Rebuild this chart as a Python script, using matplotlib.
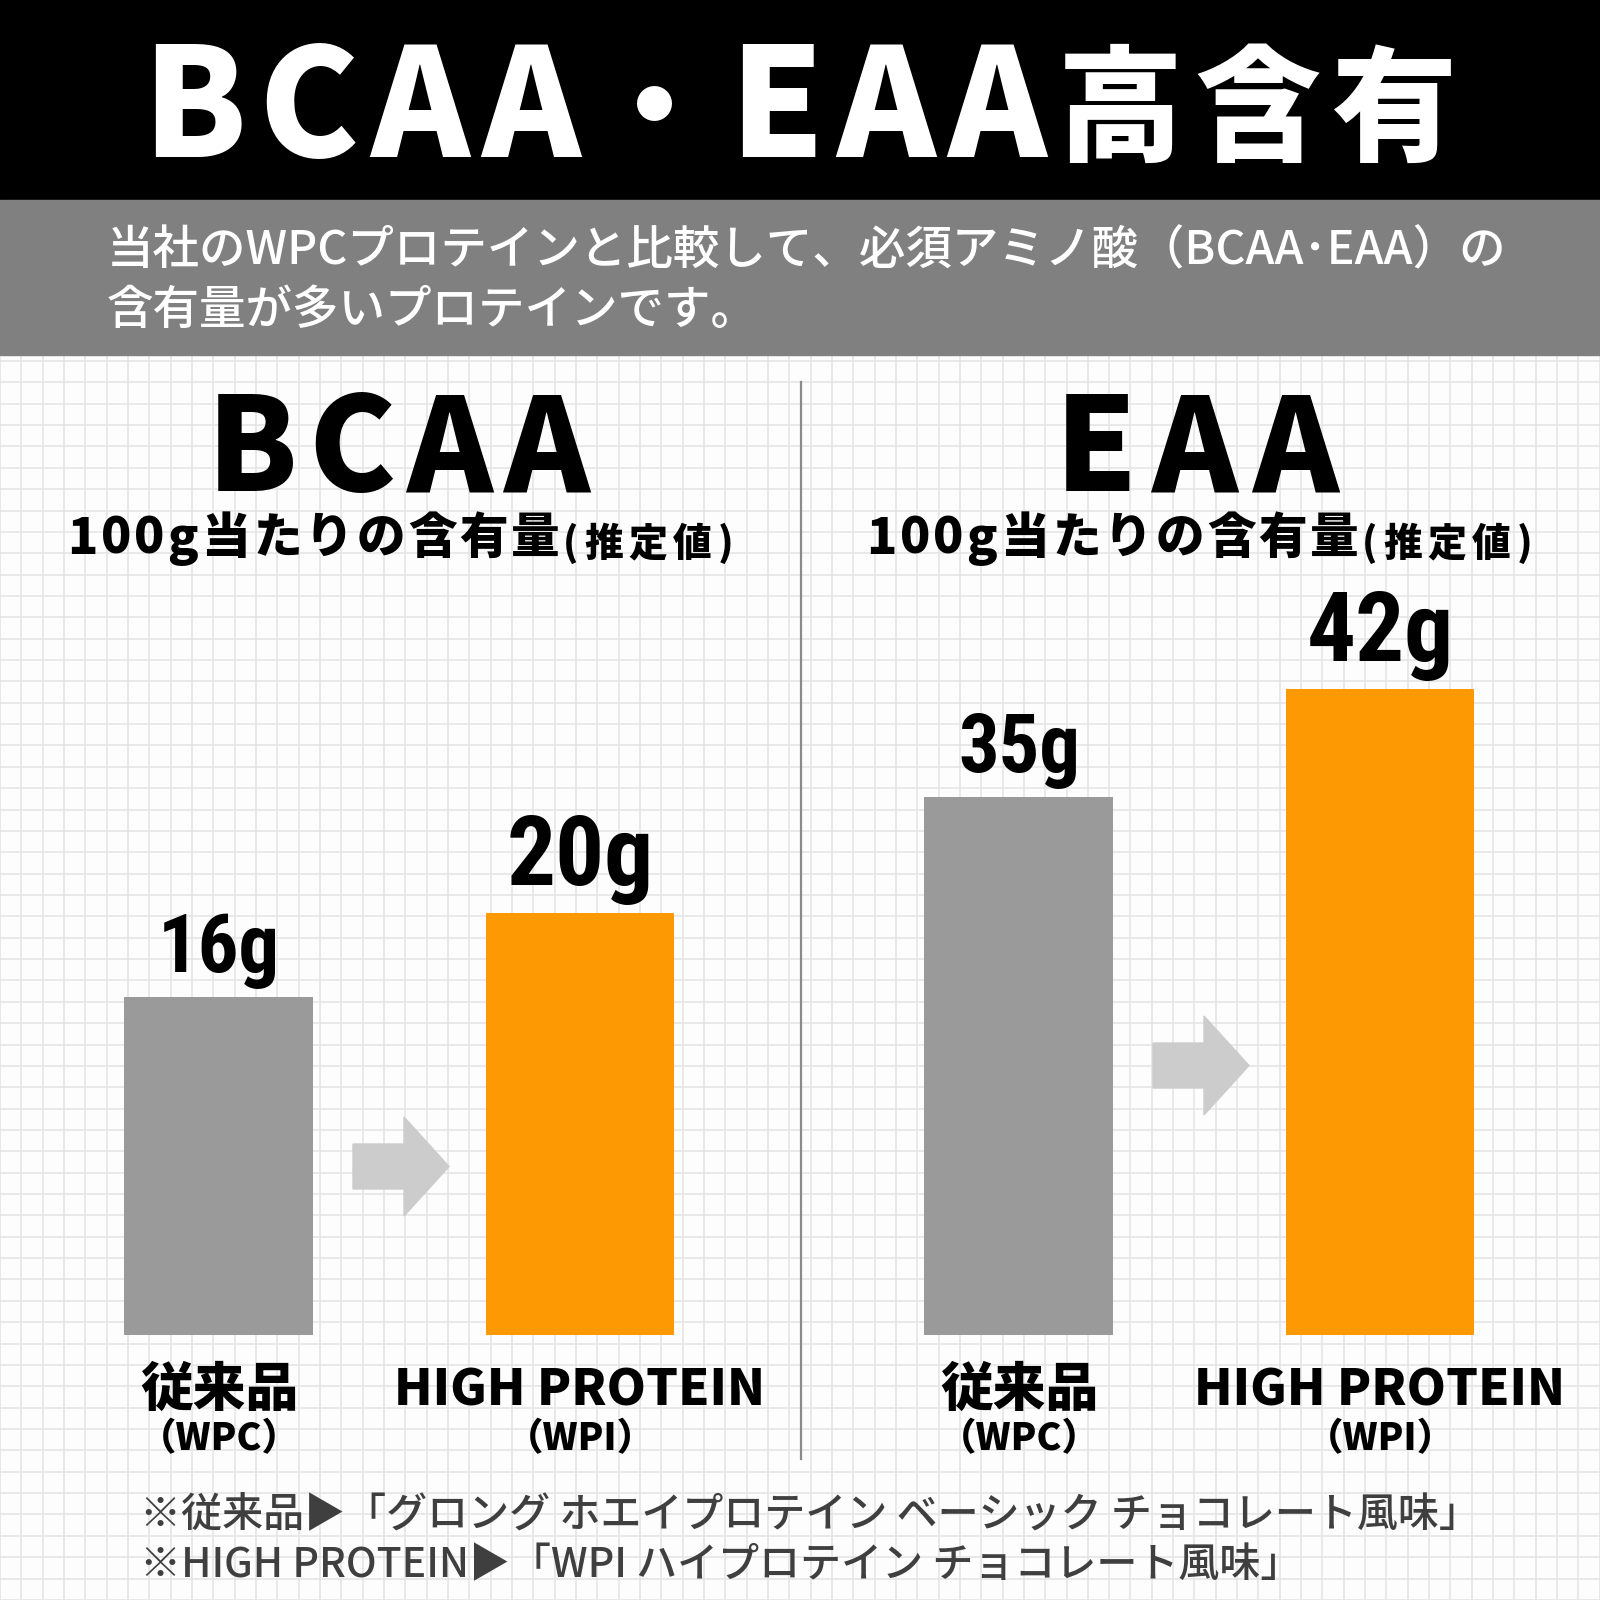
import matplotlib
matplotlib.use("Agg")
import numpy as np
import matplotlib.pyplot as plt
import matplotlib.transforms as mtransforms
from matplotlib.patches import Rectangle, Polygon
from matplotlib.font_manager import FontProperties, fontManager
from matplotlib.textpath import TextPath

# ---------------- data ----------------
TITLE = "BCAA・EAA高含有"
SUBTITLE = ["当社のWPCプロテインと比較して、必須アミノ酸（BCAA･EAA）の",
            "含有量が多いプロテインです。"]
PANELS = ["BCAA", "EAA"]
PANEL_SUB_MAIN = "100g当たりの含有量"
PANEL_SUB_PAREN = "(推定値)"
CATEGORIES = ["従来品", "HIGH PROTEIN"]
CATEGORY_SUB = ["（WPC）", "（WPI）"]
BCAA_VALUES = [16, 20]
EAA_VALUES = [35, 42]
UNIT = "g"
NOTES = ["※従来品▶「グロング ホエイプロテイン ベーシック チョコレート風味」",
         "※HIGH PROTEIN▶「WPI ハイプロテイン チョコレート風味」"]
BAR_COLORS = ["#9a9a9a", "#fd9a03"]
YMAX = [46.4, 63.7]

# ---------------- fonts ----------------
names = {f.name for f in fontManager.ttflist}
CJK = ["Noto Sans CJK JP", "DejaVu Sans"]
NUMFONT = ["Roboto Condensed", "Roboto", "DejaVu Sans"] if "Roboto Condensed" in names else ["Roboto", "DejaVu Sans"]
plt.rcParams["font.family"] = CJK

fig = plt.figure(figsize=(16, 16), dpi=100)
fig.patch.set_facecolor("#fdfdfd")
ax_bg = fig.add_axes([0, 0, 1, 1])
ax_bg.set_xlim(0, 1600)
ax_bg.set_ylim(1600, 0)
ax_bg.axis("off")
ax_bg.set_zorder(0)

# grid background
for x in np.arange(0, 1601, 21.33):
    ax_bg.plot([x, x], [355, 1600], color="#e4e4e4", lw=1.1, zorder=0)
for y in np.arange(361, 1601, 21.36):
    ax_bg.plot([0, 1600], [y, y], color="#e4e4e4", lw=1.1, zorder=0)

# bands
ax_bg.add_patch(Rectangle((0, 0), 1600, 200, color="black", zorder=1))
ax_bg.add_patch(Rectangle((0, 200), 1600, 155, color="#808080", zorder=1))


def metrics(ch, fp):
    """(ink xmin, ink xmax, advance) in pixels relative to pen origin"""
    px = fp.get_size_in_points() * 100 / 72
    fp2 = fp.copy()
    fp2.set_family(fp.get_family()[0])
    bar = TextPath((0, 0), "|", size=px, prop=fp2).get_extents().x1
    adv = TextPath((0, 0), ch + "|", size=px, prop=fp2).get_extents().x1 - bar
    if ch == " ":
        return 0.0, 0.0, adv
    ext = TextPath((0, 0), ch, size=px, prop=fp2).get_extents()
    return ext.x0, ext.x1, adv


def spaced(segs, x0, x1, color):
    """place characters so the first ink starts at x0 and last ink ends at x1"""
    items = []
    for text, size, weight, by in segs:
        fp = FontProperties(family=CJK, size=size, weight=weight)
        for ch in text:
            items.append((ch, fp, by) + metrics(ch, fp))
    natural = sum(it[5] for it in items[:-1]) + items[-1][4] - items[0][3]
    track = (x1 - x0 - natural) / max(len(items) - 1, 1)
    pen = x0 - items[0][3]
    for ch, fp, by, a, b, adv in items:
        if ch != " ":
            ax_bg.text(pen, by, ch, fontproperties=fp, color=color, ha="left",
                       va="baseline", zorder=5)
        pen += adv + track


# title
segs = []
for ch in TITLE:
    if ord(ch) < 128:
        segs.append((ch, 108, "black", 157))
    else:
        segs.append((ch, 90, "black", 151))
spaced(segs, 155, 1451, "white")

# subtitle
ax_bg.text(107, 264, SUBTITLE[0], fontsize=33.5, weight="medium", color="white",
           ha="left", va="baseline", zorder=5)
ax_bg.text(107, 324, SUBTITLE[1], fontsize=33.5, weight="medium", color="white",
           ha="left", va="baseline", zorder=5)

# separator
ax_bg.plot([801, 801], [382, 1459], color="#8a8a8a", lw=1.6, zorder=2)

# panel headers
head_ext = [(218, 590), (1066, 1339)]
for p, name in enumerate(PANELS):
    spaced([(name, 94, "black", 491)], head_ext[p][0], head_ext[p][1], "black")
    off = 799 * p
    spaced([(PANEL_SUB_MAIN[:4], 36, "black", 554), (PANEL_SUB_MAIN[4:], 35, "black", 553)],
           71 + off, 558 + off, "black")
    spaced([(PANEL_SUB_PAREN, 28, "black", 556)], 566 + off, 730 + off, "black")

# arrows
arrow = np.array([(353, 1144), (404, 1144), (404, 1117), (449, 1166.5),
                  (404, 1216), (404, 1189), (353, 1189)])
for dx, dy in [(0, 0), (800, -101)]:
    ax_bg.add_patch(Polygon(arrow + [dx, dy], closed=True, color="#cccccc", zorder=2))

# bar panels
for p, vals in enumerate([BCAA_VALUES, EAA_VALUES]):
    ax = fig.add_axes([0.5 * p, 265 / 1600, 0.5, 980 / 1600])
    ax.set_zorder(3)
    ax.patch.set_alpha(0)
    ax.set_xlim(-0.6066, 1.6094)
    ax.set_ylim(0, YMAX[p])
    ax.axis("off")
    ax.bar(range(len(vals)), vals, width=0.5235, color=BAR_COLORS)
    for i, v in enumerate(vals):
        ax.annotate(f"{v}{UNIT}", xy=(i, v), xytext=(0, [25, 28][i]),
                    textcoords="offset pixels", ha="center", va="baseline",
                    fontsize=[58, 70][i], family=NUMFONT, weight="bold", color="black")
    trans = mtransforms.blended_transform_factory(ax.transData, ax_bg.transData)
    for i, cat in enumerate(CATEGORIES):
        ax.text(i, 1406, cat, transform=trans, ha="center", va="baseline",
                fontsize=[38, 36][i], weight="black", color="black", clip_on=False)
        ax.text(i, 1450, CATEGORY_SUB[i], transform=trans, ha="center", va="baseline",
                fontsize=27, weight="black", color="black", clip_on=False)

# footnotes
ax_bg.text(140, 1527, NOTES[0], fontsize=29.5, weight="medium", color="#3f3f3f",
           ha="left", va="baseline", zorder=5)
ax_bg.text(140, 1577, NOTES[1], fontsize=29.5, weight="medium", color="#3f3f3f",
           ha="left", va="baseline", zorder=5)

fig.savefig("out.png", dpi=100, facecolor=fig.get_facecolor())
